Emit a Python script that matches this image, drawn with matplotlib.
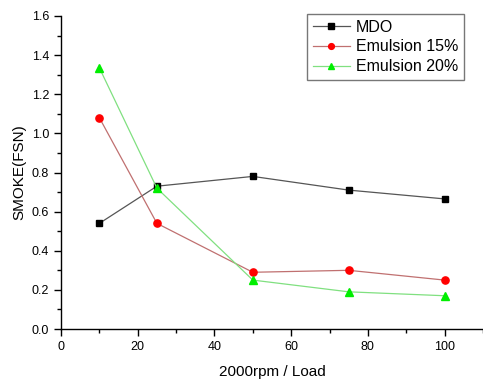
import matplotlib
matplotlib.use("Agg")
import matplotlib.pyplot as plt
from matplotlib.ticker import MultipleLocator

plt.rcParams['font.family'] = ['Liberation Sans', 'DejaVu Sans']

load = [10, 25, 50, 75, 100]
mdo = [0.54, 0.73, 0.78, 0.71, 0.665]
em15 = [1.08, 0.54, 0.29, 0.30, 0.25]
em20 = [1.335, 0.72, 0.25, 0.19, 0.17]

fig = plt.figure(figsize=(4.83, 3.81), dpi=100)
ax = fig.add_axes([61/483, 1-329/381, 1-61/483, (329-16)/381])

ax.plot(load, mdo, color='#555555', lw=0.9, marker='s', ms=4.8, mfc='black', mec='black', label='MDO')
ax.plot(load, em15, color='#c07070', lw=0.9, marker='o', ms=5.2, mfc='red', mec='red', label='Emulsion 15%')
ax.plot(load, em20, color='#80e080', lw=0.9, marker='^', ms=6.0, mfc='#00ee00', mec='#00ee00', label='Emulsion 20%')

ax.set_xlim(0, 110)
ax.set_ylim(0, 1.6)
ax.xaxis.set_major_locator(MultipleLocator(20))
ax.xaxis.set_minor_locator(MultipleLocator(10))
ax.yaxis.set_major_locator(MultipleLocator(0.2))
ax.yaxis.set_minor_locator(MultipleLocator(0.1))
ax.yaxis.set_major_formatter(matplotlib.ticker.FormatStrFormatter('%.1f'))
ax.spines['top'].set_visible(False)
ax.spines['right'].set_visible(False)
for s in ['left', 'bottom']:
    ax.spines[s].set_linewidth(1.0)
ax.tick_params(which='major', direction='out', length=5, width=1, labelsize=9)
ax.tick_params(which='minor', direction='out', length=3, width=1)
ax.set_xlabel('2000rpm / Load', fontsize=11, labelpad=9)
ax.set_ylabel('SMOKE(FSN)', fontsize=11, labelpad=4)

leg = ax.legend(loc='upper right', bbox_to_anchor=((464-61)/422, (329-14)/313), fontsize=11.5,
                frameon=True, fancybox=False, edgecolor='#555555', borderpad=0.35,
                handlelength=2.3, handletextpad=0.4, labelspacing=0.3, borderaxespad=0,
                markerscale=0.8)
leg.get_frame().set_linewidth(1.0)

fig.savefig('out.png', dpi=100)
